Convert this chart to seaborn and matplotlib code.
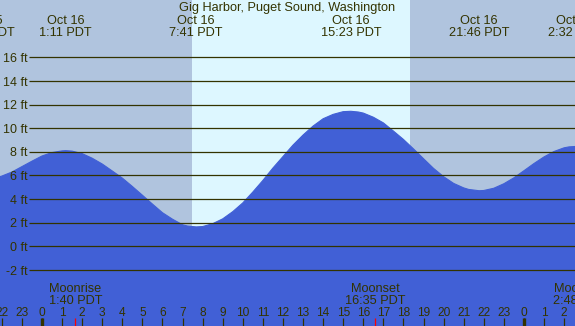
import matplotlib
matplotlib.use("Agg")
import matplotlib.pyplot as plt
import seaborn as sns
import pandas as pd

# ---------------- data ----------------
title = "Gig Harbor, Puget Sound, Washington"

# tide height (ft) vs. hours from midnight Oct 16 (PDT)
tide_hours = [-3.0, -2.89, -2.5, -2, -1.5, -1, -0.5, 0, 0.5, 1, 1.18, 1.5, 2, 2.5,
              3, 3.5, 4, 4.5, 5, 5.5, 6, 6.5, 7, 7.25, 7.68, 8, 8.5, 9, 9.5, 10,
              10.5, 11, 11.5, 12, 12.5, 13, 13.5, 14, 14.5, 15, 15.38, 15.75, 16,
              16.5, 17, 17.5, 18, 18.5, 19, 19.5, 20, 20.5, 21, 21.25, 21.77, 22,
              22.5, 23, 23.5, 24, 24.5, 25, 25.5, 26, 26.25, 26.53, 27]
tide_feet = [5.66, 5.65, 5.71, 5.95, 6.29, 6.75, 7.21, 7.65, 7.94, 8.08, 8.10, 8.06,
             7.85, 7.46, 6.97, 6.38, 5.78, 5.07, 4.33, 3.58, 2.85, 2.30, 1.83, 1.72,
             1.65, 1.68, 1.92, 2.33, 2.94, 3.68, 4.60, 5.58, 6.63, 7.60, 8.57, 9.42,
             10.18, 10.80, 11.17, 11.40, 11.43, 11.37, 11.28, 10.93, 10.45, 9.76,
             9.05, 8.25, 7.42, 6.60, 5.90, 5.33, 4.95, 4.82, 4.71, 4.73, 4.92, 5.30,
             5.80, 6.40, 7.01, 7.57, 8.03, 8.34, 8.42, 8.45, 8.38]

# high / low tide labels
extreme_hours = [-2.89, 1.18, 7.68, 15.38, 21.77, 26.53]
extreme_dates = ["Oct 15", "Oct 16", "Oct 16", "Oct 16", "Oct 16", "Oct 17"]
extreme_times = ["21:07 PDT", "1:11 PDT", "7:41 PDT", "15:23 PDT", "21:46 PDT", "2:32 PDT"]

# moon events
moon_hours = [1.667, 16.583, 26.8]
moon_names = ["Moonrise", "Moonset", "Moonrise"]
moon_times = ["1:40 PDT", "16:35 PDT", "2:48 PDT"]

# daylight
sunrise_hour = 7.47
sunset_hour = 18.33

# axis ticks
ft_ticks = [-2, 0, 2, 4, 6, 8, 10, 12, 14, 16]
hour_ticks = list(range(-2, 27))
hour_labels = [str(h % 24) for h in hour_ticks]
midnight_hours = [0, 24]

# ---------------- styling ----------------
W, H = 575, 326
night_col = "#b0c4de"
day_col = "#ddf7ff"
water_col = "#4160d6"
ink = "#333300"

sns.set_style("white", {"axes.facecolor": night_col})
plt.rcParams["font.family"] = ["Liberation Sans", "DejaVu Sans"]

fig = plt.figure(figsize=(W / 100, H / 100), dpi=100)
ax = fig.add_axes([0, 0, 1, 1])
ax.set_facecolor(night_col)

px_per_hour = 20.08
px_per_ft = 11.82
x0_hour = -42 / px_per_hour
x1_hour = (W - 42) / px_per_hour
y_top = 246.4 / px_per_ft
y_bot = -(H - 246.4) / px_per_ft

def hx(px):
    return (px - 42) / px_per_hour

def fy(py):
    return 1 - py / H

# daylight band
ax.axvspan(sunrise_hour, sunset_hour, color=day_col, lw=0, zorder=0.5)

# water
df = pd.DataFrame({"hour": tide_hours, "ft": tide_feet})
ax.fill_between(df["hour"], df["ft"], -20, color=water_col, lw=0, zorder=1)
sns.lineplot(data=df, x="hour", y="ft", color=water_col, lw=0.8, ax=ax,
             sort=False, zorder=1.1)

# horizontal grid lines and labels
ax.hlines(ft_ticks, hx(29), x1_hour + 1, colors=ink, lw=0.9, zorder=2)
for v in ft_ticks:
    ax.text(hx(27.5), v - 4.6 / px_per_ft, f"{v} ft", ha="right", va="baseline",
            fontsize=9, color=ink, zorder=3)

tr = ax.get_xaxis_transform()

# title
ax.text((hx(0) + hx(W)) / 2, fy(11.5), title, transform=tr, ha="center",
        va="baseline", fontsize=9.2, color=ink, zorder=3)

# tide extreme labels
for h, d, t in zip(extreme_hours, extreme_dates, extreme_times):
    ax.text(h, fy(24), d, transform=tr, ha="center", va="baseline",
            fontsize=9.2, color=ink, zorder=3)
    ax.text(h, fy(36), t, transform=tr, ha="center", va="baseline",
            fontsize=9.2, color=ink, zorder=3)

# moon labels + red ticks
for h, n, t in zip(moon_hours, moon_names, moon_times):
    ax.text(h, fy(292), n, transform=tr, ha="center", va="baseline",
            fontsize=9.2, color=ink, zorder=3)
    ax.text(h, fy(304), t, transform=tr, ha="center", va="baseline",
            fontsize=9.2, color=ink, zorder=3)
    ax.vlines(h, 0, 8 / H, transform=tr, colors="red", lw=0.9, zorder=3)

# hour ticks + labels
ax.vlines(hour_ticks, 0, 8 / H, transform=tr, colors=ink, lw=0.9, zorder=3)
ax.vlines(midnight_hours, 0, 8 / H, transform=tr, colors=ink, lw=2.4, zorder=3)
for h, lab in zip(hour_ticks, hour_labels):
    ax.text(h, fy(316), lab, transform=tr, ha="center", va="baseline",
            fontsize=8.6, color=ink, zorder=3)

ax.set_xlim(x0_hour, x1_hour)
ax.set_ylim(y_bot, y_top)
ax.set_xlabel("")
ax.set_ylabel("")
ax.set_xticks([])
ax.set_yticks([])
for s in ax.spines.values():
    s.set_visible(False)

fig.savefig("out.png", dpi=100)
